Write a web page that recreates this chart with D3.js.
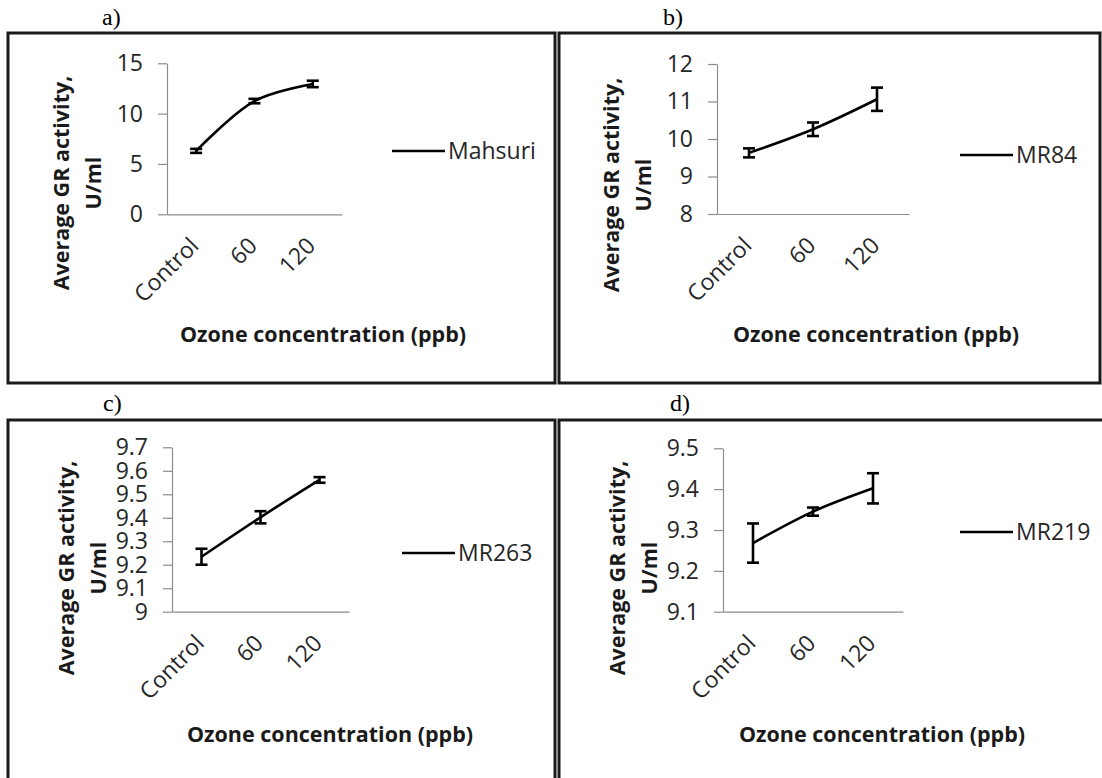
<!DOCTYPE html>
<meta charset="utf-8" />
<head>
  <style>
    body { margin: 0; background: #fff; }
    svg { display: block; }
    .tick text { font-family: "Open Sans", sans-serif; font-size: 23px; fill: #262626; }
    .axis path, .axis line { stroke: #8c8c8c; stroke-width: 1.2; }
    .frame { fill: none; stroke: #1a1a1a; stroke-width: 3; }
    .series { fill: none; stroke: #000; stroke-width: 2.6; }
    .err { stroke: #000; stroke-width: 2.6; }
    .ttl { font-family: "Open Sans", sans-serif; font-weight: bold; font-size: 21.5px; fill: #1a1a1a; }
    .leg { font-family: "Open Sans", sans-serif; font-size: 23px; fill: #262626; }
    .plabel { font-family: "Liberation Serif", serif; font-size: 24px; fill: #000; }
  </style>
  <script src="https://d3js.org/d3.v7.min.js"></script>
</head>
<body>
  <svg width="1102" height="778"></svg>
  <script>
    // categories on the x axis (ozone concentration)
    const categories = ["Control", "60", "120"];

    // average GR activity (U/ml) and error bar half-lengths
    const mahsuri = [6.3, 11.25, 12.95];
    const mahsuriErr = [0.2, 0.22, 0.32];
    const mr84 = [9.63, 10.26, 11.06];
    const mr84Err = [0.12, 0.18, 0.31];
    const mr263 = [9.234, 9.402, 9.561];
    const mr263Err = [0.034, 0.026, 0.012];
    const mr219 = [9.268, 9.345, 9.402];
    const mr219Err = [0.048, 0.01, 0.037];

    // y tick labels for each panel
    const ticksA = [0, 5, 10, 15];
    const ticksB = [8, 9, 10, 11, 12];
    const ticksC = [9, 9.1, 9.2, 9.3, 9.4, 9.5, 9.6, 9.7];
    const ticksD = [9.1, 9.2, 9.3, 9.4, 9.5];

    const svg = d3.select("svg");

    // layout of the four framed panels
    const panels = [
      { tag: "a)", name: "Mahsuri", vals: mahsuri, errs: mahsuriErr, ticks: ticksA,
        frame: [8, 33, 547, 350], tagX: 102, tagY: 25,
        axisX: 167, band: 58.3, yTop: 63.3, yBot: 214.3,
        legX: 392, legY: 151, titleX: 323, titleY: 342, ylabY: 183 },
      { tag: "b)", name: "MR84", vals: mr84, errs: mr84Err, ticks: ticksB,
        frame: [559, 33, 541, 350], tagX: 663, tagY: 25,
        axisX: 717, band: 64, yTop: 64, yBot: 214,
        legX: 960, legY: 155, titleX: 876, titleY: 342, ylabY: 185 },
      { tag: "c)", name: "MR263", vals: mr263, errs: mr263Err, ticks: ticksC,
        frame: [8, 420, 547, 370], tagX: 103, tagY: 411,
        axisX: 172, band: 59, yTop: 447.3, yBot: 611.7,
        legX: 402, legY: 553, titleX: 330, titleY: 742, ylabY: 568 },
      { tag: "d)", name: "MR219", vals: mr219, errs: mr219Err, ticks: ticksD,
        frame: [559, 420, 560, 370], tagX: 670, tagY: 411,
        axisX: 723, band: 60, yTop: 448.3, yBot: 611.7,
        legX: 960, legY: 532, titleX: 882, titleY: 742, ylabY: 568 }
    ];

    panels.forEach(function (p) {
      const g = svg.append("g");

      g.append("rect").attr("class", "frame")
        .attr("x", p.frame[0]).attr("y", p.frame[1])
        .attr("width", p.frame[2]).attr("height", p.frame[3]);

      g.append("text").attr("class", "plabel")
        .attr("x", p.tagX).attr("y", p.tagY).text(p.tag);

      const x = d3.scaleBand().domain(categories)
        .range([p.axisX, p.axisX + p.band * categories.length]);
      const y = d3.scaleLinear()
        .domain([p.ticks[0], p.ticks[p.ticks.length - 1]])
        .range([p.yBot, p.yTop]);

      // y axis
      g.append("g").attr("class", "axis")
        .attr("transform", "translate(" + p.axisX + ",0)")
        .call(d3.axisLeft(y).tickValues(p.ticks).tickSize(9).tickSizeOuter(0)
          .tickPadding(15).tickFormat(function (d) { return d3.format("")(+d.toFixed(1)); }));

      // x axis, labels turned 45 degrees
      const xa = g.append("g").attr("class", "axis")
        .attr("transform", "translate(0," + p.yBot + ")")
        .call(d3.axisBottom(x).tickSize(0).tickSizeOuter(0));
      xa.selectAll(".tick text")
        .attr("text-anchor", "end")
        .attr("dy", 0)
        .attr("y", 0)
        .attr("transform", "translate(4,33) rotate(-45)");

      // series line
      const pts = categories.map(function (c, i) {
        return { c: c, v: p.vals[i], e: p.errs[i] };
      });
      const cx = function (d) { return x(d.c) + x.bandwidth() / 2; };
      g.append("path").attr("class", "series")
        .attr("d", d3.line().x(cx).y(function (d) { return y(d.v); })
          .curve(d3.curveCatmullRom.alpha(0.5))(pts));

      // error bars
      const eb = g.selectAll(".eb").data(pts).enter().append("g");
      eb.append("line").attr("class", "err")
        .attr("x1", cx).attr("x2", cx)
        .attr("y1", function (d) { return y(d.v - d.e); })
        .attr("y2", function (d) { return y(d.v + d.e); });
      [-1, 1].forEach(function (s) {
        eb.append("line").attr("class", "err")
          .attr("x1", function (d) { return cx(d) - 6; })
          .attr("x2", function (d) { return cx(d) + 6; })
          .attr("y1", function (d) { return y(d.v + s * d.e); })
          .attr("y2", function (d) { return y(d.v + s * d.e); });
      });

      // legend
      g.append("line").attr("class", "err")
        .attr("x1", p.legX).attr("x2", p.legX + 53)
        .attr("y1", p.legY).attr("y2", p.legY);
      g.append("text").attr("class", "leg")
        .attr("x", p.legX + 56).attr("y", p.legY).attr("dy", "0.36em")
        .text(p.name);

      // axis titles
      g.append("text").attr("class", "ttl")
        .attr("x", p.titleX).attr("y", p.titleY)
        .attr("text-anchor", "middle")
        .text("Ozone concentration (ppb)");
      g.append("text").attr("class", "ttl")
        .attr("transform", "translate(" + (p.axisX - 106) + "," + p.ylabY + ") rotate(-90)")
        .attr("text-anchor", "middle").attr("dy", "0.35em")
        .text("Average GR activity,");
      g.append("text").attr("class", "ttl")
        .attr("transform", "translate(" + (p.axisX - 74) + "," + p.ylabY + ") rotate(-90)")
        .attr("text-anchor", "middle").attr("dy", "0.35em")
        .text("U/ml");
    });
  </script>
</body>
